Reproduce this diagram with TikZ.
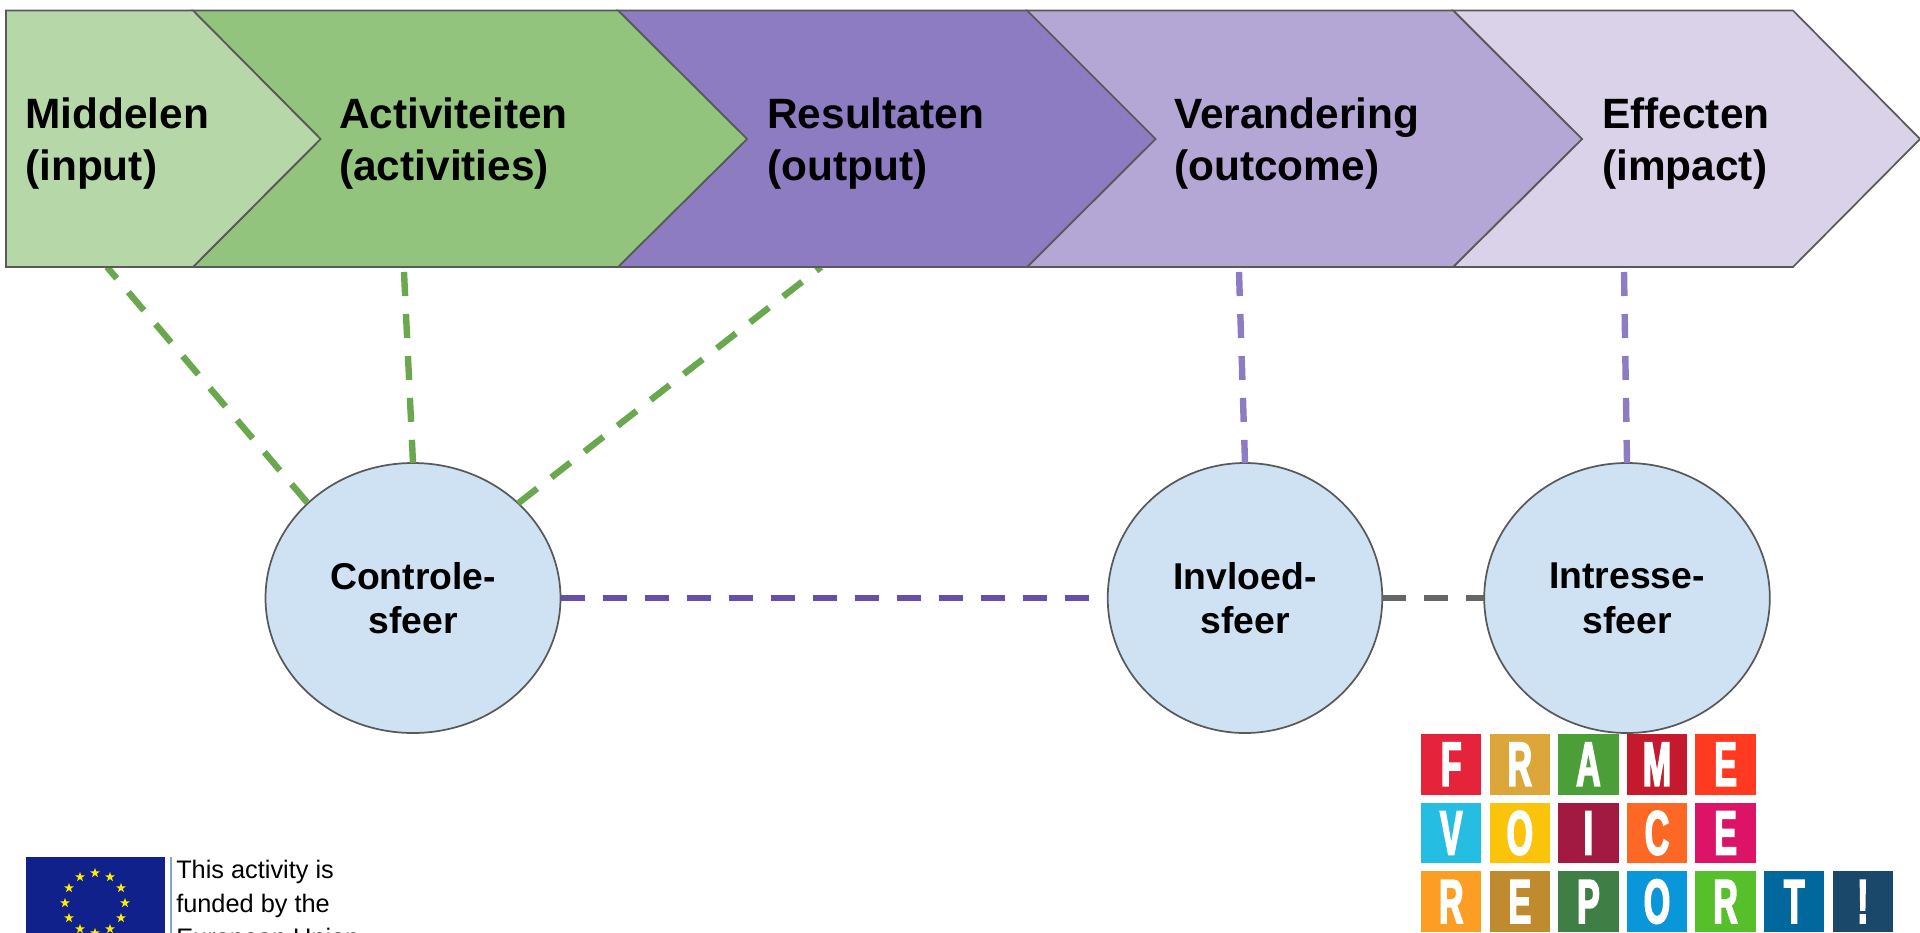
\documentclass[tikz,border=0pt]{standalone}
\usepackage{fontspec}
\setmainfont{Liberation Sans}
\newfontfamily\tilefont[FakeStretch=0.54,FakeBold=2.4]{Liberation Sans Bold}
\usetikzlibrary{shapes.geometric}

\definecolor{inputgreen}{HTML}{B6D7A8}
\definecolor{activitygreen}{HTML}{93C47D}
\definecolor{outputpurple}{HTML}{8E7CC3}
\definecolor{outcomepurple}{HTML}{B4A7D6}
\definecolor{impactpurple}{HTML}{D9D2E9}
\definecolor{sphereblue}{HTML}{CFE2F3}
\definecolor{outlinegrey}{HTML}{595959}
\definecolor{dashgreen}{HTML}{6AA84F}
\definecolor{dashpurple}{HTML}{674EA7}
\definecolor{dashgrey}{HTML}{666666}
\definecolor{flagblue}{HTML}{10218B}
\definecolor{flagyellow}{HTML}{FFED00}
\definecolor{flagrule}{HTML}{7FA8C9}

\tikzset{
	chevron/.style={draw=outlinegrey, line width=1.3pt, line join=miter},
	chevronlabel/.style={anchor=west, inner sep=0pt, align=left, font=\bfseries\fontsize{31.8}{39}\selectfont},
	sphere/.style={ellipse, draw=outlinegrey, line width=1.3pt, fill=sphereblue, inner sep=0pt, outer sep=0pt, align=center, font=\bfseries\fontsize{28}{33.5}\selectfont, execute at begin node=\rule{0pt}{23pt}},
	link/.style={line width=4.8pt, dash pattern=on 18pt off 13.5pt},
	tile/.style={minimum size=45.3pt, inner sep=0pt, text=white, font=\tilefont\fontsize{47}{47}\selectfont},
	eustar/.style={star, star points=5, star point ratio=2.5, fill=flagyellow, minimum size=7.5pt, inner sep=0pt}
}

\begin{document}
\begin{tikzpicture}[x=0.75pt, y=-0.75pt]
		%%%%% START %%%%%
		\useasboundingbox (0, 0) rectangle (1920, 932);
		
		\coordinate (middelenfoot) at (107, 267);
		\coordinate (activiteitenfoot) at (404, 272);
		\coordinate (resultatenfoot) at (821, 267);
		\coordinate (veranderingfoot) at (1239, 272);
		\coordinate (effectenfoot) at (1624, 272);
		
		\node[sphere, minimum width=221.25pt, minimum height=202.5pt] (controle) at (413, 598) {Controle-\\sfeer};
		\node[sphere, minimum width=205.9pt, minimum height=202.5pt] (invloed) at (1245, 598) {Invloed-\\sfeer};
		\node[sphere, minimum width=214.2pt, minimum height=202.5pt] (intresse) at (1627, 598) {Intresse-\\sfeer};
		
		\draw[link, dash phase=6.75pt, color=dashgreen] (middelenfoot) -- (controle.138);
		\draw[link, color=dashgreen] (activiteitenfoot) -- (controle.north);
		\draw[link, dash phase=13.5pt, color=dashgreen] (resultatenfoot) -- (controle.42);
		\draw[link, color=outputpurple] (veranderingfoot) -- (invloed.north);
		\draw[link, color=outputpurple] (effectenfoot) -- (intresse.north);
		\draw[link, color=dashpurple] (controle.east) -- (invloed.west);
		\draw[link, color=dashgrey] (invloed.east) -- (intresse.west);
		
		\draw[chevron, fill=impactpurple] (1453, 10.5) -- (1793, 10.5) -- (1920, 139) -- (1793, 267) -- (1453, 267) -- (1582, 139) -- cycle;
		\draw[chevron, fill=outcomepurple] (1027, 10.5) -- (1453, 10.5) -- (1582, 139) -- (1453, 267) -- (1027, 267) -- (1155.5, 139) -- cycle;
		\draw[chevron, fill=outputpurple] (618, 10.5) -- (1027, 10.5) -- (1155.5, 139) -- (1027, 267) -- (618, 267) -- (747, 139) -- cycle;
		\draw[chevron, fill=activitygreen] (193, 10.5) -- (618, 10.5) -- (747, 139) -- (618, 267) -- (193, 267) -- (320.5, 139) -- cycle;
		\draw[chevron, fill=inputgreen] (6, 10.5) -- (193, 10.5) -- (320.5, 139) -- (193, 267) -- (6, 267) -- cycle;
		
		\node[chevronlabel] (middelen) at (25, 143.5) {Middelen\\(input)};
		\node[chevronlabel] (activiteiten) at (339, 143.5) {Activiteiten\\(activities)};
		\node[chevronlabel] (resultaten) at (767, 143.5) {Resultaten\\(output)};
		\node[chevronlabel] (verandering) at (1174, 143.5) {Verandering\\(outcome)};
		\node[chevronlabel] (effecten) at (1602, 143.5) {Effecten\\(impact)};
		
		\node[tile, fill={rgb,255:red,229;green,36;blue,59}] (framef) at (1451.2, 764.3) {F};
		\node[tile, fill={rgb,255:red,221;green,166;blue,58}] (framer) at (1519.8, 764.3) {R};
		\node[tile, fill={rgb,255:red,76;green,159;blue,56}] (framea) at (1588.4, 764.3) {A};
		\node[tile, fill={rgb,255:red,197;green,25;blue,45}] (framem) at (1657, 764.3) {M};
		\node[tile, fill={rgb,255:red,255;green,58;blue,33}] (framee) at (1725.6, 764.3) {E};
		
		\node[tile, fill={rgb,255:red,38;green,189;blue,226}] (voicev) at (1451.2, 833) {V};
		\node[tile, fill={rgb,255:red,252;green,195;blue,11}] (voiceo) at (1519.8, 833) {O};
		\node[tile, fill={rgb,255:red,162;green,25;blue,66}] (voicei) at (1588.4, 833) {I};
		\node[tile, fill={rgb,255:red,253;green,105;blue,37}] (voicec) at (1657, 833) {C};
		\node[tile, fill={rgb,255:red,221;green,19;blue,103}] (voicee) at (1725.6, 833) {E};
		
		\node[tile, fill={rgb,255:red,253;green,157;blue,36}] (reportr) at (1451.2, 901.6) {R};
		\node[tile, fill={rgb,255:red,191;green,139;blue,46}] (reporte) at (1519.8, 901.6) {E};
		\node[tile, fill={rgb,255:red,63;green,126;blue,68}] (reportp) at (1588.4, 901.6) {P};
		\node[tile, fill={rgb,255:red,10;green,151;blue,217}] (reporto) at (1657, 901.6) {O};
		\node[tile, fill={rgb,255:red,86;green,192;blue,43}] (reportq) at (1725.6, 901.6) {R};
		\node[tile, fill={rgb,255:red,0;green,104;blue,157}] (reportt) at (1794.2, 901.6) {T};
		\node[tile, fill={rgb,255:red,25;green,72;blue,106}] (reportx) at (1862.8, 901.6) {!};
		
		\draw[fill=flagblue, draw=none] (26, 857) rectangle (165, 950);
		\draw[line width=1.1pt, color=flagrule] (171, 857) -- (171, 950);
		
		\node[eustar] (star1) at (125, 903) {};
		\node[eustar] (star2) at (121, 888) {};
		\node[eustar] (star3) at (110, 877) {};
		\node[eustar] (star4) at (95, 873) {};
		\node[eustar] (star5) at (80, 877) {};
		\node[eustar] (star6) at (69, 888) {};
		\node[eustar] (star7) at (65, 903) {};
		\node[eustar] (star8) at (69, 918) {};
		\node[eustar] (star9) at (80, 929) {};
		\node[eustar] (star10) at (95, 933) {};
		\node[eustar] (star11) at (110, 929) {};
		\node[eustar] (star12) at (121, 918) {};
		
		\node[anchor=north west, inner sep=0pt, align=left, font=\fontsize{19}{25.5}\selectfont] (funded) at (176, 860) {This activity is\\funded by the\\European Union};
		
		%%%%% END %%%%%
	\end{tikzpicture}
\end{document}
